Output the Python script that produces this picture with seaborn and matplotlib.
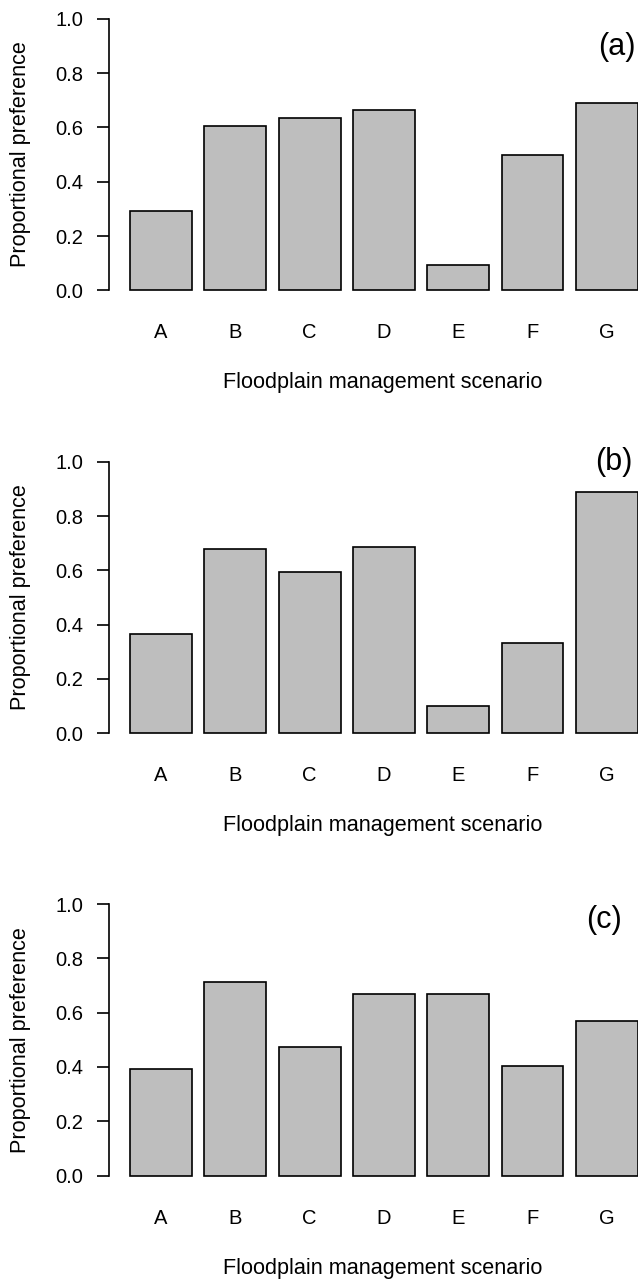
import matplotlib
matplotlib.use("Agg")
import matplotlib.pyplot as plt
import seaborn as sns
import pandas as pd

scenarios = ["A", "B", "C", "D", "E", "F", "G"]
pref_a = [0.292, 0.605, 0.634, 0.664, 0.092, 0.500, 0.689]
pref_b = [0.364, 0.678, 0.594, 0.687, 0.101, 0.334, 0.890]
pref_c = [0.394, 0.713, 0.472, 0.667, 0.667, 0.404, 0.569]
panel_tags = ["(a)", "(b)", "(c)"]
y_ticks = [0.0, 0.2, 0.4, 0.6, 0.8, 1.0]
y_label = "Proportional preference"
x_label = "Floodplain management scenario"

sns.set_style("ticks")
plt.rcParams["font.family"] = ["Liberation Sans", "DejaVu Sans"]
plt.rcParams["text.color"] = "black"
plt.rcParams["axes.labelcolor"] = "black"

W, H = 638, 1282
fig = plt.figure(figsize=(W / 100, H / 100), dpi=100)

# pixel rows of the 0.0 level for each panel, and pixels per unit of y
zero_rows = [290.3, 733.3, 1175.5]
unit_px = 271.5
tag_pos = [(6.13, 0.896), (6.10, 1.0), (5.956, 0.94)]

left_px, right_px = 109.0, 638.0
ylo, yhi = -0.04, 1.04
xlo = -0.70
xhi = xlo + (right_px - left_px) / 74.3

for vals, tag, z, tp in zip([pref_a, pref_b, pref_c], panel_tags, zero_rows, tag_pos):
    top_px = z - yhi * unit_px
    bot_px = z - ylo * unit_px
    ax = fig.add_axes([left_px / W, 1 - bot_px / H,
                       (right_px - left_px) / W, (bot_px - top_px) / H])
    df = pd.DataFrame({"scenario": scenarios, "pref": vals})
    sns.barplot(data=df, x="scenario", y="pref", ax=ax, color="#BEBEBE",
                saturation=1, edgecolor="black", linewidth=1.2,
                width=1 / 1.2, errorbar=None)
    ax.set_xlim(xlo, xhi)
    ax.set_ylim(ylo, yhi)
    ax.set_yticks(y_ticks)
    ax.set_yticklabels([f"{t:.1f}" for t in y_ticks])
    for s in ["top", "right", "bottom"]:
        ax.spines[s].set_visible(False)
    ax.spines["left"].set_bounds(0, 1)
    ax.spines["left"].set_linewidth(1.2)
    ax.spines["left"].set_color("black")
    ax.tick_params(axis="y", length=8.6, width=1.2, pad=10, labelsize=14.5,
                   colors="black", direction="out")
    ax.tick_params(axis="x", length=0, pad=16, labelsize=14.5, colors="black")
    ax.set_ylabel(y_label, fontsize=15.6, color="black")
    ax.yaxis.set_label_coords((21 - left_px) / (right_px - left_px), 0.5)
    ax.yaxis.label.set_va("center")
    ax.set_xlabel(x_label, fontsize=15.6, color="black")
    ax.xaxis.set_label_coords((383 - left_px) / (right_px - left_px),
                              -(92.7 - 10.9) / (bot_px - top_px))
    ax.xaxis.label.set_va("center")
    ax.text(tp[0], tp[1], tag, fontsize=22, ha="center", va="center",
            color="black")
    ax.set_facecolor("white")

fig.savefig("out.png", dpi=100, facecolor="white")
